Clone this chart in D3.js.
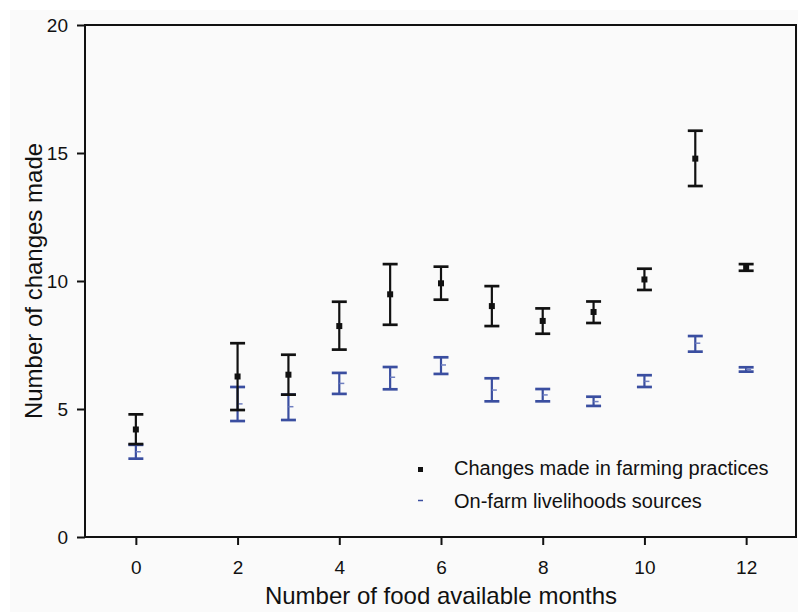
<!DOCTYPE html>
<html lang="en">
  <head>
    <meta charset="UTF-8" />
    <script src="https://d3js.org/d3.v7.min.js"></script>
    <title>Changes made vs food available months</title>
    <style>
      body {
        margin: 0;
        background: #ffffff;
      }
      text {
        font-family: "Liberation Sans", Arial, sans-serif;
        fill: #111;
      }
      .axis path,
      .axis line {
        stroke: #111;
        stroke-width: 2px;
      }
      .axis text {
        font-size: 19px;
      }
      .axis-title {
        font-size: 24px;
      }
      .legend text {
        font-size: 20px;
      }
    </style>
  </head>
  <body>
    <svg id="chart" width="798" height="612"></svg>

    <script>
      // values (mean, lower and upper end of error bar)
      const months = [0, 2, 3, 4, 5, 6, 7, 8, 9, 10, 11, 12];

      const farmMean = [4.2, 6.27, 6.34, 8.24, 9.48, 9.91, 9.02, 8.44, 8.79, 10.06, 14.78, 10.53];
      const farmLow = [3.63, 4.96, 5.56, 7.32, 8.29, 9.27, 8.24, 7.94, 8.36, 9.65, 13.71, 10.4];
      const farmHigh = [4.79, 7.57, 7.12, 9.19, 10.66, 10.56, 9.8, 8.93, 9.2, 10.48, 15.87, 10.66];

      const livMean = [3.33, 5.2, 5.09, 6.0, 6.24, 6.72, 5.74, 5.55, 5.29, 6.08, 7.57, 6.55];
      const livLow = [3.06, 4.53, 4.57, 5.59, 5.77, 6.37, 5.3, 5.3, 5.12, 5.86, 7.24, 6.46];
      const livHigh = [3.6, 5.86, 5.56, 6.41, 6.64, 7.02, 6.2, 5.78, 5.48, 6.32, 7.85, 6.63];

      const xTicks = [0, 2, 4, 6, 8, 10, 12];
      const yTicks = [0, 5, 10, 15, 20];

      const seriesNames = ["Changes made in farming practices", "On-farm livelihoods sources"];

      const svg = d3.select("#chart");

      // faint grey page behind the figure
      svg
        .append("rect")
        .attr("x", 10)
        .attr("y", 10)
        .attr("width", 788)
        .attr("height", 602)
        .attr("fill", "#fafafa");

      const plotLeft = 85,
        plotRight = 797,
        plotTop = 25,
        plotBottom = 537;

      const x = d3.scaleLinear().domain([-1, 13]).range([plotLeft, plotRight]);
      const y = d3.scaleLinear().domain([0, 20]).range([plotBottom, plotTop]);

      // axes
      svg
        .append("g")
        .attr("class", "axis")
        .attr("transform", `translate(0,${plotBottom})`)
        .call(d3.axisBottom(x).tickValues(xTicks).tickSize(8).tickSizeOuter(0).tickPadding(16));

      svg
        .append("g")
        .attr("class", "axis")
        .attr("transform", `translate(${plotLeft},0)`)
        .call(d3.axisLeft(y).tickValues(yTicks).tickSize(8).tickSizeOuter(0).tickPadding(9));

      svg.selectAll(".axis .domain").remove();

      // frame round the plot
      svg
        .append("rect")
        .attr("x", plotLeft)
        .attr("y", plotTop)
        .attr("width", plotRight - plotLeft - 1)
        .attr("height", plotBottom - plotTop)
        .attr("fill", "none")
        .attr("stroke", "#111")
        .attr("stroke-width", 2);

      const blue = "#3a4ea0";
      const capW = 7.5;

      function errorBars(means, lows, highs, color, cls) {
        const g = svg.append("g").attr("class", cls);
        const d = months.map((m, i) => ({ m: m, mean: means[i], lo: lows[i], hi: highs[i] }));

        g.selectAll(".stem")
          .data(d)
          .enter()
          .append("line")
          .attr("x1", (p) => x(p.m))
          .attr("x2", (p) => x(p.m))
          .attr("y1", (p) => y(p.lo))
          .attr("y2", (p) => y(p.hi))
          .attr("stroke", color)
          .attr("stroke-width", 2.2);

        ["lo", "hi"].forEach((k) => {
          g.selectAll(".cap-" + k)
            .data(d)
            .enter()
            .append("line")
            .attr("x1", (p) => x(p.m) - capW)
            .attr("x2", (p) => x(p.m) + capW)
            .attr("y1", (p) => y(p[k]))
            .attr("y2", (p) => y(p[k]))
            .attr("stroke", color)
            .attr("stroke-width", 2.7);
        });
        return { g: g, d: d };
      }

      // on-farm livelihoods (blue) below, farming practices (black) on top
      const liv = errorBars(livMean, livLow, livHigh, blue, "liv");
      liv.g
        .selectAll(".mean")
        .data(liv.d)
        .enter()
        .append("line")
        .attr("x1", (p) => x(p.m))
        .attr("x2", (p) => x(p.m) + 5)
        .attr("y1", (p) => y(p.mean))
        .attr("y2", (p) => y(p.mean))
        .attr("stroke", "#6f7fc0")
        .attr("stroke-width", 1.5);

      const farm = errorBars(farmMean, farmLow, farmHigh, "#111", "farm");
      farm.g
        .selectAll(".mean")
        .data(farm.d)
        .enter()
        .append("rect")
        .attr("x", (p) => x(p.m) - 3)
        .attr("y", (p) => y(p.mean) - 3)
        .attr("width", 6)
        .attr("height", 6)
        .attr("fill", "#111");

      // legend
      const legend = svg.append("g").attr("class", "legend");
      legend
        .append("rect")
        .attr("x", 418)
        .attr("y", 467)
        .attr("width", 5)
        .attr("height", 5)
        .attr("fill", "#111");
      legend
        .append("line")
        .attr("x1", 418)
        .attr("x2", 423)
        .attr("y1", 500.5)
        .attr("y2", 500.5)
        .attr("stroke", blue)
        .attr("stroke-width", 1.5);
      legend
        .selectAll("text")
        .data(seriesNames)
        .enter()
        .append("text")
        .attr("x", 454)
        .attr("y", (d, i) => 475 + i * 32.5)
        .text((d) => d);

      // axis titles
      svg
        .append("text")
        .attr("class", "axis-title")
        .attr("x", x(6))
        .attr("y", 604)
        .style("text-anchor", "middle")
        .text("Number of food available months");

      svg
        .append("text")
        .attr("class", "axis-title")
        .attr("transform", `translate(42,${y(10)}) rotate(-90)`)
        .style("text-anchor", "middle")
        .text("Number of changes made");
    </script>
  </body>
</html>
